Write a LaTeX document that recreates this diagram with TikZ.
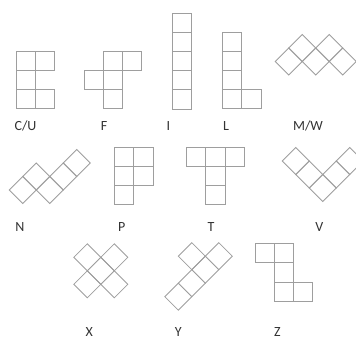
\documentclass[tikz,border=0pt]{standalone}
\usepackage{fontspec}
\setmainfont{Carlito}
\begin{document}
\begin{tikzpicture}[x=0.75pt,y=-0.75pt,
  piece/.style={draw=black!38,line width=0.6pt},
  lbl/.style={anchor=base,inner sep=0pt,font=\fontsize{10.5}{12}\selectfont,text=black!80}]
\useasboundingbox (0,0) rectangle (356,338);
\clip (0,0) rectangle (356,338);
\def\s{19.2}
\def\h{13.5}
\newcommand\sqcells[3]{% origin x, origin y, list of cells
  \foreach \i/\j in {#3}{\draw[piece] ({#1+\i*\s},{#2+\j*\s}) rectangle ++(\s,\s);}}
\newcommand\dicells[3]{% base centre x, y, list of offsets (in half diagonals, y up)
  \foreach \i/\j in {#3}{\draw[piece] ({#1+\i*\h-\h},{#2-\j*\h}) -- ++(\h,-\h) -- ++(\h,\h) -- ++(-\h,\h) -- cycle;}}
% row 1
\sqcells{16}{51}{0/0,1/0,0/1,0/2,1/2}
\sqcells{84}{51}{1/0,2/0,0/1,1/1,1/2}
\sqcells{172}{13}{0/0,0/1,0/2,0/3,0/4}
\sqcells{222.5}{32}{0/0,0/1,0/2,0/3,1/3}
\dicells{288.8}{61.5}{0/0,1/1,2/0,3/1,4/0}
% row 2
\dicells{22.7}{190}{0/0,1/1,2/0,3/1,4/2}
\sqcells{114.5}{147}{0/0,1/0,0/1,1/1,0/2}
\sqcells{186.5}{147}{0/0,1/0,2/0,1/1,1/2}
\dicells{322.7}{188}{0/0,-1/1,-2/2,1/1,2/2}
% row 3
\dicells{100.8}{270.8}{0/0,1/1,-1/1,1/-1,-1/-1}
\dicells{178.3}{296.7}{0/0,1/1,2/2,3/3,1/3}
\sqcells{255}{243.5}{0/0,1/0,1/1,1/2,2/2}
% labels
\node[lbl] (lcu) at (25.5,131) {C/U};
\node[lbl] (lf) at (104,131) {F};
\node[lbl] (li) at (168.5,131) {I};
\node[lbl] (ll) at (226,131) {L};
\node[lbl] (lmw) at (308,131) {M/W};
\node[lbl] (ln) at (20,231.5) {N};
\node[lbl] (lp) at (121.7,231.5) {P};
\node[lbl] (lt) at (211,231.5) {T};
\node[lbl] (lv) at (319.3,231.5) {V};
\node[lbl] (lx) at (89.3,336) {X};
\node[lbl] (ly) at (178.3,336) {Y};
\node[lbl] (lz) at (277.3,336) {Z};
\end{tikzpicture}
\end{document}
